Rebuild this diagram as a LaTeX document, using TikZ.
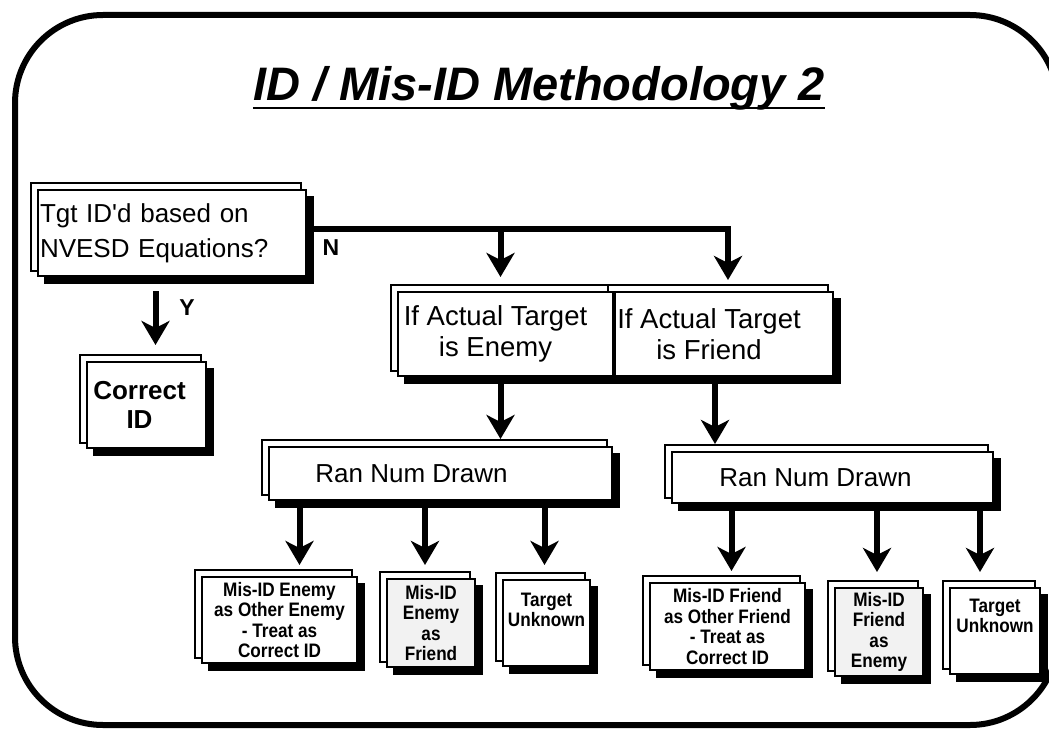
\documentclass[tikz,border=0pt]{standalone}
\usepackage{fontspec}
\setmainfont{Liberation Sans}
\newfontfamily\leafface{Liberation Sans}[FakeStretch=0.88]
\usetikzlibrary{arrows.meta,calc}
\pgfdeclarelayer{back}
\pgfsetlayers{back,main}

\tikzset{
  frontbox/.style={draw, line width=2pt, fill=white, inner sep=2pt, align=center},
  stipple/.style={fill=black!5},
  flowarrow/.style={line width=6pt, -{Stealth[length=24pt,width=28pt,inset=7pt]}},
  drawlabel/.style={font=\fontsize{26}{30}\selectfont},
  splitlabel/.style={font=\fontsize{27.5}{31}\selectfont},
  leaflabel/.style={font=\leafface\bfseries\fontsize{19.5}{20.5}\selectfont},
  branchmark/.style={font=\bfseries\fontsize{23}{26}\selectfont, inner sep=0pt},
}

% thin offset outline behind a box plus its heavy drop shadow
\newcommand\panelback[1]{%
  \begin{pgfonlayer}{back}
    \draw[line width=2pt, fill=white]
      ($(#1.north west)+(-6,-6)$) rectangle ($(#1.south east)+(-6,-6)$);
    \fill[black]
      ($(#1.north west)+(7,7)$) rectangle ($(#1.south east)+(7,7)$);
  \end{pgfonlayer}}

\begin{document}
\begin{tikzpicture}[x=1pt, y=-1pt]
  \useasboundingbox (0,0) rectangle (1049,730);

  % outer rounded frame
  \draw[line width=6pt, rounded corners=88pt] (15,15) rectangle (1058,725);

  % heading
  \node[font=\bfseries\itshape\fontsize{47}{52}\selectfont, inner sep=0pt, anchor=base]
    (title) at (539,101) {ID / Mis-ID Methodology 2};
  \draw[line width=2.5pt] ($(title.base west)+(0,7)$) -- ($(title.base east)+(0,7)$);

  % decision box
  \node[frontbox, minimum width=268pt, minimum height=86pt, text width=264pt, align=left,
        font=\fontsize{26}{35}\selectfont] (A) at (172,233)
    {Tgt ID\textquotesingle d based on\\NVESD Equations?};
  \panelback{A}

  \node[frontbox, minimum width=119pt, minimum height=86pt,
        font=\bfseries\fontsize{26}{29}\selectfont] (cid) at (146.5,405)
    {Correct\hspace*{14pt}\\ID\hspace*{14pt}};
  \panelback{cid}

  % actual target split
  \node[frontbox, minimum width=215pt, minimum height=84pt, splitlabel] (enemy) at (505.5,334)
    {If Actual Target\hspace*{20pt}\\is Enemy\hspace*{20pt}};
  \panelback{enemy}
  \node[frontbox, minimum width=212pt, minimum height=84pt, splitlabel] (friend) at (724,334)
    {If Actual Target\hspace*{30pt}\\is Friend\hspace*{30pt}};
  \panelback{friend}

  % random draws
  \node[frontbox, minimum width=343pt, minimum height=53pt, drawlabel] (drawE) at (440.5,473.5)
    {Ran Num Drawn\hspace*{58pt}};
  \panelback{drawE}
  \node[frontbox, minimum width=321pt, minimum height=51pt, drawlabel] (drawF) at (832.5,477.5)
    {Ran Num Drawn\hspace*{34pt}};
  \panelback{drawF}

  % outcomes, enemy side
  \node[frontbox, minimum width=155pt, minimum height=86pt, leaflabel] (e1) at (279.5,620)
    {Mis-ID Enemy\\as Other Enemy\\- Treat as\\Correct ID};
  \panelback{e1}
  \node[frontbox, stipple, minimum width=88pt, minimum height=88pt, leaflabel] (e2) at (431,623)
    {Mis-ID\\Enemy\\as\\Friend};
  \panelback{e2}
  \node[frontbox, minimum width=87pt, minimum height=86pt, leaflabel] (e3) at (546.5,623)
    {Target\\Unknown\\[6pt]};
  \panelback{e3}

  % outcomes, friend side
  \node[frontbox, minimum width=155pt, minimum height=87pt, leaflabel] (f1) at (727.5,626.5)
    {Mis-ID Friend\\as Other Friend\\- Treat as\\Correct ID};
  \panelback{f1}
  \node[frontbox, stipple, minimum width=88pt, minimum height=88pt, leaflabel] (f2) at (879,632)
    {Mis-ID\\Friend\\as\\Enemy};
  \panelback{f2}
  \node[frontbox, minimum width=90pt, minimum height=86pt, leaflabel] (f3) at (995,631)
    {Target\\Unknown\\[10pt]};
  \panelback{f3}

  % N branch
  \coordinate (nrun) at ($(A.east)+(0,-4)$);
  \coordinate (enemyin) at ([xshift=-5pt]enemy.north);
  \coordinate (friendin) at ([xshift=4pt]friend.north);
  \draw[flowarrow, shorten >=11pt] (nrun) -| (friendin);
  \draw[flowarrow, shorten >=14pt] (nrun -| enemyin) -- (enemyin);
  \node[branchmark] (nmark) at (331,248) {N};

  % Y branch
  \coordinate (cidin) at ([xshift=9pt]cid.north);
  \draw[flowarrow, shorten <=14pt, shorten >=16pt] (cidin |- A.south) -- (cidin);
  \node[branchmark] (ymark) at (187,308) {Y};

  % split to draws
  \coordinate (enemyout) at ([xshift=-5pt]enemy.south);
  \coordinate (friendout) at ([xshift=-9pt]friend.south);
  \draw[flowarrow, shorten <=6pt, shorten >=7pt] (enemyout) -- (enemyout |- drawE.north);
  \draw[flowarrow, shorten <=6pt, shorten >=7pt] (friendout) -- (friendout |- drawF.north);

  % draws to outcomes
  \coordinate (e1in) at ([xshift=20pt]e1.north);
  \coordinate (e2in) at ([xshift=-6pt]e2.north);
  \coordinate (e3in) at ([xshift=-2pt]e3.north);
  \coordinate (f1in) at ([xshift=4pt]f1.north);
  \coordinate (f2in) at ([xshift=-2pt]f2.north);
  \coordinate (f3in) at ([xshift=-15pt]f3.north);
  \draw[flowarrow, shorten <=5pt, shorten >=11pt] (e1in |- drawE.south) -- (e1in);
  \draw[flowarrow, shorten <=5pt, shorten >=13pt] (e2in |- drawE.south) -- (e2in);
  \draw[flowarrow, shorten <=5pt, shorten >=14pt] (e3in |- drawE.south) -- (e3in);
  \draw[flowarrow, shorten <=5pt, shorten >=11pt] (f1in |- drawF.south) -- (f1in);
  \draw[flowarrow, shorten <=5pt, shorten >=15pt] (f2in |- drawF.south) -- (f2in);
  \draw[flowarrow, shorten <=5pt, shorten >=15pt] (f3in |- drawF.south) -- (f3in);
\end{tikzpicture}
\end{document}
